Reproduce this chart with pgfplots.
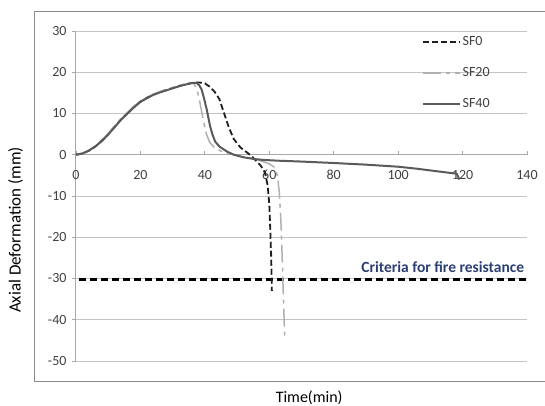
\documentclass[border=0pt]{standalone}
\usepackage{fontspec}
\setmainfont{Carlito}
\usepackage{pgfplots}
\pgfplotsset{compat=1.18}

\definecolor{gridc}{HTML}{C4C4C4}
\definecolor{axc}{HTML}{A8A8A8}
\definecolor{sfzero}{HTML}{1E1E1E}
\definecolor{sftwenty}{HTML}{B0B0B0}
\definecolor{sfforty}{HTML}{5A5A5A}
\definecolor{crit}{HTML}{2B3F73}
\definecolor{framec}{HTML}{8C8C8C}

\begin{document}
\begin{tikzpicture}
\useasboundingbox (-76pt,-45pt) rectangle (469pt,361pt);
\draw[framec, line width=1pt] (-41pt,-21pt) rectangle (475pt,349pt);
\begin{axis}[
  at={(0pt,0pt)}, anchor=south west,
  scale only axis, width=451pt, height=330pt,
  xmin=0, xmax=140, ymin=-50, ymax=30,
  axis x line=middle, axis y line=left,
  x axis line style={-, draw=axc, line width=1pt},
  y axis line style={-, draw=axc, line width=1pt},
  hide obscured x ticks=false, hide obscured y ticks=false,
  xtick={0,20,...,140}, ytick={-50,-40,...,30},
  ymajorgrids, grid style={gridc, line width=1pt},
  tick align=outside, major tick length=4pt,
  tick style={axc, line width=0.8pt},
  xtick style={yshift=4pt},
  ticklabel style={font=\fontsize{14}{16}\selectfont, text=black!75},
  xticklabel style={yshift=-8pt},
  yticklabel style={xshift=-2pt},
  /pgf/number format/assume math mode=true,
  xlabel={Time(min)}, ylabel={Axial Deformation (mm)},
  xlabel style={at={(axis description cs:0.517,-0.112)}, anchor=center, font=\fontsize{16}{18}\selectfont},
  ylabel style={at={(axis description cs:-0.134,0.397)}, anchor=center, font=\fontsize{17}{19}\selectfont},
  legend style={at={(0.767,0.988)}, anchor=north west, draw=none, fill=none,
    inner sep=0pt, row sep=17.5pt, font=\fontsize{14}{16}\selectfont,
    nodes={inner sep=1.5pt, text=black!75}},
  legend cell align=left,
  legend image code/.code={\draw[#1] (0pt,0pt) -- (37pt,0pt);},
]

% criteria line
\addplot[black, line width=3pt, dash pattern=on 7pt off 4pt, forget plot]
  coordinates {(1,-30.3) (140,-30.3)};

% SF0
\addplot[sfzero, line width=1.8pt, dash pattern=on 6pt off 3pt]
  coordinates {
    (0,0) (2,0.3) (4,1.0) (6,2.0) (8,3.4) (10,5.0) (12,6.8) (14,8.6) (16,10.1)
    (18,11.6) (20,12.9) (22,13.8) (24,14.6) (26,15.2) (28,15.7) (30,16.2)
    (32,16.7) (34,17.1) (36,17.4) (37,17.5) (38.5,17.5) (40,17.3) (41.5,16.5)
    (43,15.3) (44.5,13.5) (46,10) (47.5,6.5) (49,3.8) (51,1.8) (54,0)
    (56,-1.5) (57.5,-2.8) (58.7,-4.4) (59.5,-7.5) (60,-12) (60.3,-18)
    (60.6,-25) (60.8,-33)
  };
\addlegendentry{SF0}

% SF20
\addplot[sftwenty, line width=1.5pt, dash pattern=on 18pt off 5pt on 4pt off 5pt]
  coordinates {
    (0,0) (2,0.35) (4,1.1) (6,2.1) (8,3.5) (10,5.2) (12,7.0) (14,8.8) (16,10.3)
    (18,11.8) (20,13.0) (22,13.9) (24,14.7) (26,15.3) (28,15.8) (30,16.3)
    (32,16.8) (34,17.1) (35.5,17.3) (36.5,17.3) (37.5,16) (38.5,12.5)
    (39.5,8.5) (40.5,5) (41.5,3) (43,1.7) (45,0.9) (47,0.4) (50,-0.2)
    (54,-0.8) (57,-1.4) (60,-2.2) (61.5,-3) (62.5,-5) (63.1,-9) (63.6,-16)
    (64,-25) (64.4,-35) (64.8,-44.5)
  };
\addlegendentry{SF20}

% SF40
\addplot[sfforty, line width=2pt]
  coordinates {
    (0,0) (2,0.3) (4,1.0) (6,2.0) (8,3.3) (10,4.9) (12,6.7) (14,8.5) (16,10.0)
    (18,11.5) (20,12.8) (22,13.7) (24,14.5) (26,15.1) (28,15.6) (30,16.1)
    (32,16.6) (34,17.0) (36,17.4) (37.5,17.4) (38.3,16.8) (39,15.8)
    (39.8,13.5) (40.6,10.9) (41.6,7) (42.4,4.8) (43.2,3.2) (44.5,2.0)
    (46.8,0.8) (49,0) (51.9,-0.6) (55,-1.0) (58,-1.25) (63,-1.45) (70,-1.65)
    (80,-2.0) (90,-2.4) (100,-2.9) (106,-3.4) (112,-4.0) (118.2,-4.6) (119,-6)
  };
\addlegendentry{SF40}

\node[anchor=east, inner sep=0pt, text=crit, font=\bfseries\fontsize{15.5}{17}\selectfont]
  at (axis cs:139.2,-27.2) {Criteria for fire resistance};

\end{axis}
\end{tikzpicture}
\end{document}
